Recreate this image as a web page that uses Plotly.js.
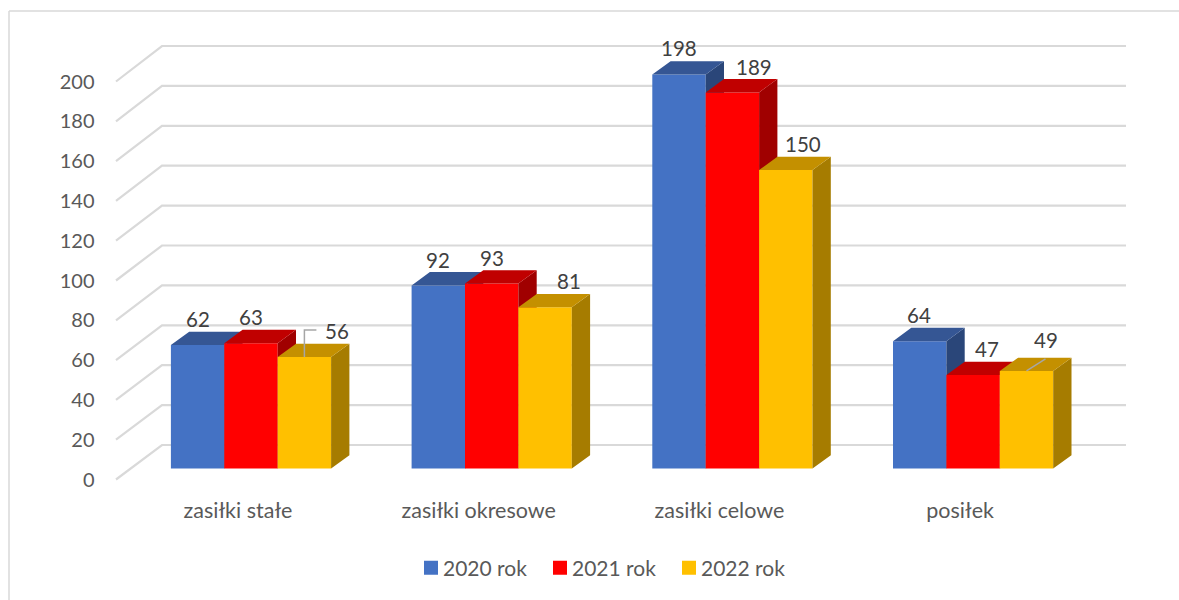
<!DOCTYPE html>
<html><head><meta charset="utf-8">
<script src="https://cdn.plot.ly/plotly-3.0.1.min.js"></script>
<style>html,body{margin:0;padding:0;background:#fff}</style></head>
<body><div id="chart" style="width:1179px;height:600px"></div>
<script>
const categories = ["zasiłki stałe", "zasiłki okresowe", "zasiłki celowe", "posiłek"];
const seriesNames = ["2020 rok", "2021 rok", "2022 rok"];
const values2020 = [62, 92, 198, 64];
const values2021 = [63, 93, 189, 47];
const values2022 = [56, 81, 150, 49];
const yTicks = [0, 20, 40, 60, 80, 100, 120, 140, 160, 180, 200];

const frontColors = ["#4472C4", "#FF0000", "#FFC000"];
const topColors = ["#355694", "#C00000", "#C49000"];
const sideColors = ["#2A4679", "#A00000", "#A67C00"];
const gridColor = "#D9D9D9", leaderColor = "#A6A6A6";
const FONT = "Lato, 'Open Sans', sans-serif";

// label nudges in pixels [series][category]
const labelDx = [[0, 0, 0, -1], [0, 0, 22, 14], [33, 24, 17, 19]];
const labelDy = [[26, 25, 26, 26], [26, 25, 25, 26], [26, 26, 26, 31]];

const W = 1179, H = 600;
const catPx = 240.7, unitPx = 1.99, zeroPx = 468.5;
const plotLeft = 130.65;
const barW = 160.2 / catPx / 3;
const depthX = 18.3 / catPx, depthY = 13.3 / unitPx;
const toX = px => (px - plotLeft) / catPx - 0.5;
const toY = px => (zeroPx - px) / unitPx;

const allValues = [values2020, values2021, values2022];
const traces = [];

// walls: front edge -> back edge -> right end for every tick
const wallFrontX = toX(116), wallBackX = toX(162), wallEndX = toX(1126);
const wallFrontDy = -11 / unitPx, wallBackDy = 23.5 / unitPx, backScale = 1.0025;
yTicks.forEach(t => {
  const back = t * backScale + wallBackDy;
  traces.push({type: "scatter", mode: "lines", x: [wallFrontX, wallBackX, wallEndX],
    y: [t + wallFrontDy, back, back], line: {color: gridColor, width: 2.2}, showlegend: false,
    hoverinfo: "skip", zorder: 0});
});

const polyTrace = (xs, ys, color, z) => ({type: "scatter", mode: "lines", x: xs, y: ys, fill: "toself",
  fillcolor: color, line: {width: 0, color: color}, showlegend: false, hoverinfo: "skip", zorder: z});

allValues.forEach((vals, s) => {
  const idx = vals.map((_, i) => i);
  traces.push({type: "bar", name: seriesNames[s], x: idx, y: vals, marker: {color: frontColors[s]},
    hoverinfo: "y", zorder: 1 + 2 * s});
  const sx = [], sy = [], tx = [], ty = [];
  vals.forEach((v, i) => {
    const L = i + (s - 1) * barW - barW / 2, R = L + barW;
    sx.push(R, R + depthX, R + depthX, R, R, null);
    sy.push(0, depthY, v + depthY, v, 0, null);
    tx.push(L, L + depthX, R + depthX, R, L, null);
    ty.push(v, v + depthY, v + depthY, v, v, null);
  });
  traces.push(polyTrace(sx, sy, sideColors[s], 2 + 2 * s));
  traces.push(polyTrace(tx, ty, topColors[s], 2 + 2 * s));
});

// leader lines for the two labels that were moved
const leader = (xs, ys) => ({type: "scatter", mode: "lines", x: xs, y: ys, line: {color: leaderColor, width: 1.5},
  showlegend: false, hoverinfo: "skip", zorder: 8});
const c56 = 0 + barW;
traces.push(leader([c56, c56, c56 + 12 / catPx], [values2022[0], values2022[0] + 27 / unitPx, values2022[0] + 27 / unitPx]));
const c49 = 3 + barW;
traces.push(leader([c49, c49 + 19 / catPx], [values2022[3], values2022[3] + 12 / unitPx]));

// carries the displaced tick-label axes
traces.push({type: "scatter", mode: "none", x: categories, y: [0, 0, 0, 0], xaxis: "x2", yaxis: "y2",
  showlegend: false, hoverinfo: "skip"});

const annotations = [];
allValues.forEach((vals, s) => vals.forEach((v, i) => {
  annotations.push({x: i + (s - 1) * barW, y: v, xref: "x", yref: "y", text: String(v), showarrow: false,
    xanchor: "center", yanchor: "middle", xshift: labelDx[s][i], yshift: labelDy[s][i],
    font: {family: FONT, size: 20.5, color: "#404040"}});
}));

const layout = {
  width: W, height: H, margin: {l: 0, r: 0, t: 0, b: 0}, paper_bgcolor: "#fff", plot_bgcolor: "rgba(0,0,0,0)",
  barmode: "group", bargap: 1 - 160.2 / catPx, bargroupgap: 0, showlegend: true,
  font: {family: FONT, size: 20, color: "#595959"},
  xaxis: {domain: [0, 1], range: [toX(0), toX(W)], showgrid: false, zeroline: false,
    showticklabels: false, ticks: "", showline: false, fixedrange: true},
  yaxis: {domain: [0, 1], range: [toY(H), toY(0)], showgrid: false, zeroline: false,
    showticklabels: false, ticks: "", showline: false, fixedrange: true},
  xaxis2: {domain: [117.65 / W, (117.65 + 4 * catPx) / W], type: "category", categoryorder: "array", categoryarray: categories,
    range: [-0.5, 3.5], anchor: "free", position: (H - 495) / H, side: "bottom", showgrid: false, zeroline: false, showline: false, ticks: "",
    tickfont: {family: FONT, size: 21.5, color: "#595959"}, automargin: false, fixedrange: true},
  yaxis2: {domain: [(H - 479.5) / H, (H - 81.5) / H], range: [0, 200], tickmode: "array", tickvals: yTicks,
    anchor: "free", position: 94.5 / W, side: "left", showgrid: false, zeroline: false, showline: false, ticks: "",
    tickfont: {family: FONT, size: 20, color: "#595959"}, automargin: false, fixedrange: true},
  legend: {orientation: "h", x: 411 / W, xanchor: "left", y: (H - 568) / H, yanchor: "middle", entrywidth: 84, entrywidthmode: "pixels",
    font: {family: FONT, size: 21, color: "#595959"}, bgcolor: "rgba(0,0,0,0)", itemclick: false, itemdoubleclick: false},
  shapes: [
    {type: "line", xref: "paper", yref: "paper", x0: 9 / W, x1: 1, y0: (H - 11) / H, y1: (H - 11) / H, line: {color: gridColor, width: 1.5}},
    {type: "line", xref: "paper", yref: "paper", x0: 9 / W, x1: 9 / W, y0: (H - 11) / H, y1: 0, line: {color: gridColor, width: 1.5}}
  ],
  annotations: annotations
};
Plotly.newPlot("chart", traces, layout, {displayModeBar: false, responsive: false}).then(() => {
  // tighter legend key spacing and a slightly larger key than the library's default
  document.querySelectorAll(".legend .legendtext").forEach(t => t.setAttribute("x", 32));
  document.querySelectorAll(".legend .legendpoints path").forEach(p => p.setAttribute("d", "M7,7H-7V-7H7Z"));
});
</script></body></html>
